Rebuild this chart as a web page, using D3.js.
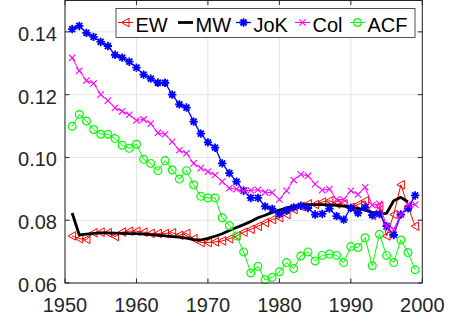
<!DOCTYPE html>
<html><head><meta charset="utf-8">
<script src="https://cdn.jsdelivr.net/npm/d3@7"></script>
<style>body{margin:0;background:#fff}svg{display:block}text{font-family:"Liberation Sans",Arial,sans-serif}</style>
</head><body><svg id="c" width="465" height="322"></svg>
<script>
const years = [1951,1952,1953,1954,1955,1956,1957,1958,1959,1960,1961,1962,1963,1964,1965,1966,1967,1968,1969,1970,1971,1972,1973,1974,1975,1976,1977,1978,1979,1980,1981,1982,1983,1984,1985,1986,1987,1988,1989,1990,1991,1992,1993,1994,1995,1996,1997,1998,1999];
const EW = [0.0750,0.0741,0.0739,0.0760,0.0762,0.0760,0.0748,0.0762,0.0765,0.0765,0.0762,0.0758,0.0758,0.0758,0.0760,0.0752,0.0758,0.0741,0.0729,0.0729,0.0731,0.0734,0.0741,0.0750,0.0762,0.0771,0.0781,0.0792,0.0802,0.0808,0.0818,0.0834,0.0844,0.0852,0.0850,0.0858,0.0862,0.0852,0.0852,0.0841,0.0850,0.0862,0.0815,0.0844,0.0750,0.0818,0.0913,0.0844,0.0781];
const MW = [0.0823,0.0753,0.0756,0.0758,0.0760,0.0760,0.0759,0.0758,0.0757,0.0757,0.0756,0.0754,0.0752,0.0750,0.0748,0.0746,0.0743,0.0738,0.0737,0.0742,0.0749,0.0757,0.0767,0.0777,0.0786,0.0796,0.0808,0.0816,0.0825,0.0832,0.0839,0.0844,0.0849,0.0850,0.0850,0.0850,0.0849,0.0847,0.0845,0.0842,0.0837,0.0832,0.0825,0.0821,0.0822,0.0862,0.0873,0.0858];
const JoK = [0.1409,0.1419,0.1397,0.1384,0.1368,0.1355,0.1327,0.1318,0.1305,0.1286,0.1264,0.1251,0.1238,0.1238,0.1200,0.1169,0.1159,0.1114,0.1076,0.1048,0.1031,0.0981,0.0950,0.0923,0.0894,0.0871,0.0871,0.0844,0.0836,0.0820,0.0831,0.0841,0.0846,0.0839,0.0818,0.0820,0.0837,0.0813,0.0802,0.0839,0.0823,0.0841,0.0816,0.0820,0.0781,0.0753,0.0818,0.0838,0.0879];
const Col = [0.1317,0.1276,0.1245,0.1236,0.1200,0.1181,0.1158,0.1147,0.1136,0.1118,0.1121,0.1108,0.1078,0.1074,0.1050,0.1023,0.1013,0.0981,0.0966,0.0955,0.0944,0.0923,0.0902,0.0899,0.0894,0.0895,0.0897,0.0889,0.0888,0.0866,0.0894,0.0928,0.0946,0.0941,0.0915,0.0896,0.0899,0.0866,0.0866,0.0894,0.0882,0.0905,0.0848,0.0852,0.0781,0.0771,0.0818,0.0850,0.0850];
const ACF = [0.1099,0.1137,0.1116,0.1089,0.1074,0.1074,0.1060,0.1039,0.1029,0.1042,0.0994,0.0981,0.0958,0.0990,0.0960,0.0931,0.0958,0.0913,0.0876,0.0871,0.0871,0.0808,0.0783,0.0750,0.0699,0.0632,0.0653,0.0610,0.0618,0.0636,0.0665,0.0646,0.0686,0.0699,0.0670,0.0688,0.0692,0.0688,0.0665,0.0716,0.0713,0.0744,0.0655,0.0755,0.0688,0.0665,0.0737,0.0697,0.0642];
const xTicks = [1950,1960,1970,1980,1990,2000];
const yTicks = [0.06,0.08,0.10,0.12,0.14];
const names = ["EW","MW","JoK","Col","ACF"];

const svg = d3.select("#c");
const L=65,R=422.3,T=0.5,B=283;
const x = d3.scaleLinear().domain([1950,2000]).range([L,R]);
const y = d3.scaleLinear().domain([0.06,0.15]).range([B,T]);
const axisCol="#262626";

// grid
const g = svg.append("g");
g.selectAll(".gx").data(xTicks).join("line").attr("x1",d=>x(d)).attr("x2",d=>x(d)).attr("y1",T).attr("y2",B).attr("stroke","#e3e3e3").attr("stroke-width",1);
g.selectAll(".gy").data(yTicks).join("line").attr("x1",L).attr("x2",R).attr("y1",d=>y(d)).attr("y2",d=>y(d)).attr("stroke","#e3e3e3").attr("stroke-width",1);

// markers
function markerPath(type){
  if(type==="tri") return "M-4,0L3.5,-4.3L3.5,4.3Z";
  if(type==="star") return "M-4.2,0H4.2M0,-4.2V4.2M-3,-3L3,3M-3,3L3,-3";
  if(type==="x") return "M-3.2,-3.2L3.2,3.2M-3.2,3.2L3.2,-3.2";
  if(type==="o") return "M3.9,0A3.9,3.9 0 1 1 -3.9,0A3.9,3.9 0 1 1 3.9,0Z";
  return null;
}
const series = [
  {name:"EW", vals:EW, color:"#ff0000", lw:1, marker:"tri", mw:1},
  {name:"MW", vals:MW, color:"#000000", lw:2.8, marker:null},
  {name:"JoK", vals:JoK, color:"#0000ff", lw:1.3, marker:"star", mw:1.8},
  {name:"Col", vals:Col, color:"#ff00ff", lw:1, marker:"x", mw:1.1},
  {name:"ACF", vals:ACF, color:"#00ff00", lw:1, marker:"o", mw:1.2}
];
const line = d3.line().x(d=>x(d[0])).y(d=>y(d[1]));
const plot = svg.append("g");
series.forEach(s=>{
  const pts = s.vals.map((v,i)=>[years[i],v]);
  plot.append("path").attr("d",line(pts)).attr("fill","none").attr("stroke",s.color).attr("stroke-width",s.lw).attr("stroke-linejoin","round");
  if(s.marker){
    plot.selectAll(null).data(pts).join("path").attr("d",markerPath(s.marker))
      .attr("transform",d=>`translate(${x(d[0])},${y(d[1])})`)
      .attr("fill","none").attr("stroke",s.color).attr("stroke-width",s.mw);
  }
});

// axes box
svg.append("rect").attr("x",L).attr("y",T).attr("width",R-L).attr("height",B-T).attr("fill","none").attr("stroke",axisCol).attr("stroke-width",1);
const tl=4.5;
xTicks.forEach(t=>{
  svg.append("line").attr("x1",x(t)).attr("x2",x(t)).attr("y1",B).attr("y2",B-tl).attr("stroke",axisCol);
  svg.append("line").attr("x1",x(t)).attr("x2",x(t)).attr("y1",T).attr("y2",T+tl).attr("stroke",axisCol);
  svg.append("text").attr("x",x(t)).attr("y",311.5).attr("text-anchor","middle").attr("font-size",20).attr("fill",axisCol).text(t);
});
yTicks.forEach(t=>{
  svg.append("line").attr("x1",L).attr("x2",L+tl).attr("y1",y(t)).attr("y2",y(t)).attr("stroke",axisCol);
  svg.append("line").attr("x1",R).attr("x2",R-tl).attr("y1",y(t)).attr("y2",y(t)).attr("stroke",axisCol);
  svg.append("text").attr("x",57).attr("y",y(t)+2).attr("dy","0.35em").attr("text-anchor","end").attr("font-size",20).attr("fill",axisCol).text(d3.format(".2f")(t));
});

// legend
const lg = svg.append("g");
lg.append("rect").attr("x",116).attr("y",8.5).attr("width",299).attr("height",29).attr("fill","#fff").attr("stroke",axisCol).attr("stroke-width",0.8);
const legX = [118,178,236,295,350];
const ly = 22.5;
series.forEach((s,i)=>{
  const x0=legX[i], x1=x0+15;
  lg.append("line").attr("x1",x0).attr("x2",x1).attr("y1",ly).attr("y2",ly).attr("stroke",s.color).attr("stroke-width",s.lw);
  if(s.marker) lg.append("path").attr("d",markerPath(s.marker)).attr("transform",`translate(${(x0+x1)/2},${ly})`).attr("fill","none").attr("stroke",s.color).attr("stroke-width",s.mw);
  lg.append("text").attr("x",x1+2.5).attr("y",31.5).attr("font-size",20).attr("fill","#000").text(names[i]);
});
</script></body></html>
